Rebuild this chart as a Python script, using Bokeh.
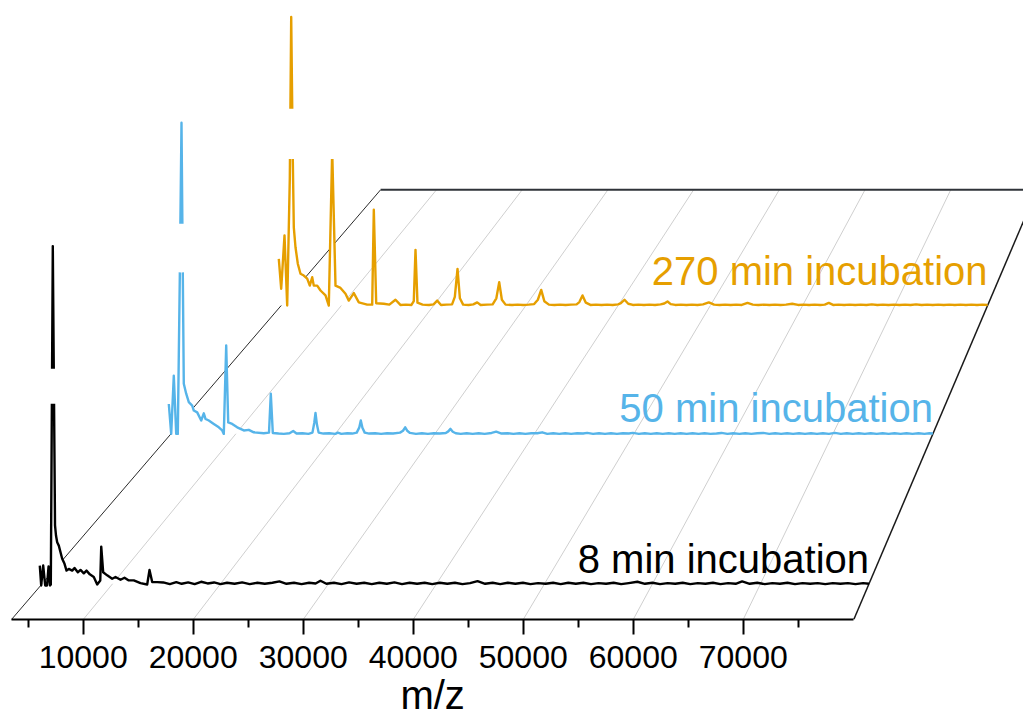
import math
from bokeh.plotting import figure
from bokeh.models import Range1d, LinearAxis, FixedTicker, ColumnDataSource, Title
from bokeh.embed import file_html
from bokeh.resources import INLINE
from bokeh.core.properties import value

# ------------------------------------------------------------------ data
TICKS = [10000, 20000, 30000, 40000, 50000, 60000, 70000]
MINOR_TICKS = [5000, 15000, 25000, 35000, 45000, 55000, 65000, 75000]
MZ_MIN, MZ_MAX = 3480, 80050
AXIS_TITLE = "m/z"

LABELS = ["8 min incubation", "50 min incubation", "270 min incubation"]
COLORS = ["#000000", "#56B4E9", "#E69F00"]

# 8 min incubation (relative intensity, main peak = 1)
BLACK_MZ = [3260, 3390, 3575, 3760, 3930, 4070, 4205, 4280, 4464, 4670, 4760, 4870, 5020,
            5335, 5550, 5735, 5945, 6260, 6475, 6780, 7030, 7335, 7585, 7890, 8260, 8576,
            8860, 8950, 9130, 9500, 9965, 10270, 10735, 11105, 11500, 11965, 12585, 13205,
            13420, 13670, 14130,
            14700, 15300, 15900, 16400, 17000, 17600, 18200, 18800, 19400, 20000, 20600,
            21300, 22000, 22700, 23400, 24100, 24800, 25450, 26100, 26800, 27500, 28200,
            28800, 29250, 29800, 30500, 31200, 31900, 32600, 33300, 34000, 34700, 35400,
            36100, 36800, 37500, 38200, 38900, 39600, 40300, 41000, 41700, 42400, 43100,
            43800, 44500, 45200, 45900, 46600, 47300, 48000, 48700, 49400, 50100, 50800,
            51500, 52200, 52900, 53600, 54300, 55000, 55700, 56400, 57100, 57800, 58600,
            59300, 60000, 60700, 61400, 62100, 62800, 63500, 64200, 64900, 65600, 66300,
            67000, 67700, 68300, 69000, 69700, 70400, 71100, 71800, 72500, 73200, 73900,
            74600, 75300, 76000, 76700, 77400, 78100, 78800, 79500, 80050]
BLACK_I = [0.054, -0.005, 0.054, -0.005, -0.005, 0.051, -0.005, -0.002, 1.0, 0.173, 0.143,
           0.123, 0.113, 0.074, 0.059, 0.039, 0.044, 0.039, 0.047, 0.034, 0.041, 0.031,
           0.039, 0.028, 0.020, -0.002, 0.010, 0.110, 0.034, 0.025, 0.015, 0.020, 0.012,
           0.018, 0.010, 0.010, 0.002, -0.002, 0.041, 0.005, 0.005,
           0.004, -0.001, 0.005, 0.000, 0.004, -0.001, 0.006, 0.001, 0.004, -0.001, 0.003,
           0.000, 0.004, -0.001, 0.003, 0.000, 0.003, 0.007, 0.000, 0.003, -0.001, 0.003,
           0.001, 0.009, 0.000, 0.003, -0.001, 0.004, 0.000, 0.003, -0.001, 0.003, 0.000,
           0.004, -0.001, 0.003, 0.000, 0.003, -0.001, 0.003, 0.000, 0.003, -0.001, 0.002,
           0.008, 0.000, 0.003, -0.001, 0.003, 0.000, 0.003, -0.001, 0.002, 0.000, 0.003,
           -0.001, 0.003, 0.000, 0.003, -0.001, 0.002, 0.000, 0.003, -0.001, 0.002, 0.006,
           0.000, 0.003, -0.001, 0.002, 0.000, 0.003, -0.001, 0.002, 0.000, 0.003, -0.001,
           0.002, 0.000, 0.007, 0.000, 0.003, -0.001, 0.002, 0.000, 0.003, -0.001, 0.002,
           0.000, 0.002, -0.001, 0.002, 0.000, 0.002, -0.001, 0.002, 0.000]
BLACK_BREAK = (0.533, 0.637)

# 50 min incubation
BLUE_MZ = [3264, 3505, 3766, 4008, 4168, 4369, 4540, 4671, 4771, 5012, 5274, 5615, 5776,
           6118, 6520, 6781, 6952, 7284, 7786, 8289, 8630, 8791, 9032, 9233, 9635, 10138,
           10801, 11303, 11806, 12810, 13333, 13514, 13715, 14300, 14820, 15400, 15765,
           16100, 16700, 17300, 17700, 17880, 18006, 18150, 18320, 18800, 19400, 20000,
           20250, 20600, 21200, 21700, 22150, 22400, 22558, 22720, 22950, 23400, 24000,
           24600, 25200, 25800, 26500, 26800, 27020, 27250, 27500, 28100, 28700, 29300,
           29900, 30500, 31100, 31350, 31572, 31800, 32100, 32600, 33200, 33800, 34400,
           35000, 35700, 36164, 36700, 37300, 37900, 38500, 39100, 39700, 40300, 40787,
           41300, 41900, 42500, 43100, 43700, 44300, 44900, 45309,
           45900, 46500, 47100, 47700, 48300, 48900, 49500, 49900, 50500, 51100,
           51700, 52300, 52900, 53500, 54100, 54700, 55300, 55900, 56500, 57100,
           57700, 58300, 58800, 59400, 60000, 60600, 61200, 61800, 62400, 63000,
           63600, 64200, 64800, 65400, 66000, 66600, 67200, 67800, 68400, 69000,
           69600, 70200, 70800, 71400, 72000, 72600, 73200, 73800, 74400, 75000,
           75600, 76200, 76800, 77400, 78000, 78600, 79200, 79700, 80050]
BLUE_I = [0.096, 0.0, 0.187, 0.0, 0.0, 0.503, 1.0, 0.514, 0.161, 0.129, 0.102, 0.091, 0.075,
          0.069, 0.043, 0.066, 0.048, 0.043, 0.032, 0.021, 0.011, 0.0, 0.284, 0.037, 0.032,
          0.021, 0.011, 0.013, 0.005, 0.002, 0.004, 0.129, 0.003, 0.001, 0.000, 0.002,
          0.009, 0.001, 0.002, 0.000, 0.004, 0.035, 0.067, 0.030, 0.004, 0.001, 0.002,
          0.000, 0.004, 0.000, 0.002, 0.001, 0.004, 0.020, 0.043, 0.020, 0.004, 0.001,
          0.002, 0.000, 0.002, 0.001, 0.004, 0.010, 0.021, 0.009, 0.003, 0.000, 0.002,
          0.000, 0.002, 0.001, 0.003, 0.008, 0.016, 0.007, 0.002, 0.000, 0.002, 0.000,
          0.002, 0.000, 0.003, 0.007, 0.001, 0.002, 0.000, 0.002, 0.000, 0.002, 0.002,
          0.005, 0.000, 0.002, 0.000, 0.002, 0.000, 0.002, 0.001, 0.003,
          0.000, 0.002, 0.000, 0.002, 0.000, 0.002, 0.001, 0.003, 0.000, 0.002,
          0.000, 0.002, 0.000, 0.002, 0.000, 0.002, 0.000, 0.002, 0.000, 0.002,
          0.000, 0.001, 0.003, 0.000, 0.002, 0.000, 0.002, 0.000, 0.002, 0.003,
          0.000, 0.002, 0.000, 0.002, 0.000, 0.002, 0.000, 0.002, 0.000, 0.002,
          0.000, 0.003, 0.000, 0.002, 0.000, 0.002, 0.000, 0.002, 0.000, 0.002,
          0.000, 0.002, 0.000, 0.002, 0.000, 0.002, 0.000, 0.002, 0.001]
BLUE_BREAK = (0.519, 0.675)

# 270 min incubation
ORANGE_MZ = [3220, 3480, 3838, 4130, 4412, 4564, 4737, 4846, 5030, 5279, 5572, 5930, 6298,
             6580, 6840, 7014, 7382, 7740, 8282, 8640, 9008, 9366, 9908, 10450, 10808,
             11350, 11892, 12802, 13344, 13518, 13778, 14602, 15200, 15870, 16400, 17000,
             17600, 17850, 18038, 18250, 18800, 19500, 20000, 20390, 20800, 21400, 22000,
             22300, 22591, 22850, 23200, 23800, 24300, 24727, 25100, 25800, 26400, 26800,
             27111, 27400, 27800, 28500, 29100, 29700, 30300, 30900, 31300, 31664, 32000,
             32500, 33100, 33700, 34300, 34900, 35500, 35800, 36141, 36500, 37000, 37600,
             38200, 38800, 39400, 40000, 40300, 40694, 41100, 41600, 42200, 42800, 43400,
             44000, 44600, 45000, 45355, 45700, 46200, 46800, 47400, 48000, 48600, 49200,
             49832, 50400, 51000, 51600, 52200, 52800, 53400, 54027, 54600, 55200, 55800,
             56400, 57000, 57600, 58200, 58872, 59500, 60100, 60700, 61300, 61900, 62400,
             62840, 63300, 63900, 64500, 65100, 65700, 66300, 66900, 67500, 68100, 68700,
             69300, 69900, 70500, 71100, 71700, 72300, 72900, 73500, 74100, 74700, 75300,
             75900, 76500, 77100, 77700, 78300, 78900, 79500, 80050]
ORANGE_I = [0.162, 0.058, 0.243, 0.0, 0.439, 1.0, 0.508, 0.271, 0.202, 0.145, 0.110, 0.104,
            0.093, 0.069, 0.098, 0.069, 0.069, 0.052, 0.035, 0.0, 0.537, 0.069, 0.061,
            0.041, 0.017, 0.043, 0.011, 0.003, 0.003, 0.332, 0.008, 0.006, 0.003, 0.020,
            0.002, 0.003, 0.002, 0.015, 0.193, 0.010, 0.003, 0.002, 0.004, 0.017, 0.002,
            0.003, 0.004, 0.030, 0.127, 0.025, 0.003, 0.002, 0.004, 0.011, 0.002, 0.003,
            0.004, 0.025, 0.081, 0.020, 0.003, 0.002, 0.003, 0.002, 0.003, 0.005, 0.020,
            0.054, 0.015, 0.003, 0.002, 0.003, 0.002, 0.003, 0.004, 0.012, 0.035, 0.010,
            0.002, 0.003, 0.002, 0.003, 0.002, 0.004, 0.008, 0.020, 0.006, 0.002, 0.003,
            0.002, 0.003, 0.002, 0.004, 0.007, 0.014, 0.005, 0.002, 0.003, 0.002, 0.003,
            0.002, 0.004, 0.011, 0.003, 0.002, 0.003, 0.002, 0.003, 0.002, 0.009, 0.003,
            0.002, 0.003, 0.002, 0.003, 0.002, 0.003, 0.006, 0.002, 0.003, 0.002, 0.003,
            0.002, 0.003, 0.009, 0.002, 0.003, 0.002, 0.003, 0.002, 0.003, 0.002, 0.004,
            0.002, 0.003, 0.002, 0.003, 0.002, 0.003, 0.002, 0.004, 0.002, 0.003, 0.002,
            0.003, 0.002, 0.003, 0.002, 0.003, 0.002, 0.003, 0.002, 0.003, 0.002]
ORANGE_BREAK = (0.508, 0.682)

for a, b in ((BLACK_MZ, BLACK_I), (BLUE_MZ, BLUE_I), (ORANGE_MZ, ORANGE_I)):
    assert len(a) == len(b), (len(a), len(b))

# ------------------------------------------------------------------ layout (pixels)
W, H = 1023, 726
AXIS_PANEL = 107
FRAME_H = H - AXIS_PANEL
FL_X, FR_X = 11.0, 853.3          # front edge of the floor
BL_X, BR_X = 380.1, 1036.4        # back edge of the floor
BACK_H = 429.7                    # height of back edge above front edge
PEAK_H = 344.0                    # height of intensity 1 at the front
DEPTHS = [0.0831, 0.432, 0.7307]  # position of each spectrum on the floor
LABEL_RAISE = [25.0, 25.5, 34.5]
TITLE_SIZE = 40
TITLE_EM = 1.611                  # advance width of "m/z" in em (Arial metrics)


def floor_geom(d):
    xl = FL_X + d * (BL_X - FL_X)
    xr = FR_X + d * (BR_X - FR_X)
    return xl, xr, d * BACK_H, (xr - xl) / (FR_X - FL_X)


def project(ms, vals, d):
    xl, xr, y0, s = floor_geom(d)
    xs = [xl + (m - MZ_MIN) / (MZ_MAX - MZ_MIN) * (xr - xl) if not math.isnan(m) else math.nan
          for m in ms]
    ys = [y0 + v * PEAK_H * s if not math.isnan(v) else math.nan for v in vals]
    return xs, ys, y0


def split_band(ms, vals, lo, hi):
    """drop the parts of the trace inside the axis-break band (lo, hi)"""
    om, ov = [], []
    last = None
    for i in range(len(ms) - 1):
        m0, v0, m1, v1 = ms[i], vals[i], ms[i + 1], vals[i + 1]
        ts = [0.0, 1.0]
        if v1 != v0:
            for b in (lo, hi):
                t = (b - v0) / (v1 - v0)
                if 0 < t < 1:
                    ts.append(t)
        ts.sort()
        for a, b in zip(ts[:-1], ts[1:]):
            vm = v0 + (a + b) / 2 * (v1 - v0)
            if lo < vm < hi:
                continue
            pa = (m0 + a * (m1 - m0), v0 + a * (v1 - v0))
            pb = (m0 + b * (m1 - m0), v0 + b * (v1 - v0))
            if last is None or abs(last[0] - pa[0]) > 1e-6 or abs(last[1] - pa[1]) > 1e-9:
                if om:
                    om.append(math.nan)
                    ov.append(math.nan)
                om.append(pa[0])
                ov.append(pa[1])
            om.append(pb[0])
            ov.append(pb[1])
            last = pb
    return om, ov


p = figure(width=W, height=H, output_backend="svg", toolbar_location=None,
           x_range=Range1d(0, W), y_range=Range1d(0, FRAME_H),
           x_axis_location=None, y_axis_location=None,
           min_border=0, min_border_left=0, min_border_right=0, min_border_top=0,
           min_border_bottom=AXIS_PANEL)
p.outline_line_color = None
p.background_fill_color = "white"
p.border_fill_color = "white"
p.grid.visible = False

# m/z axis along the front edge of the floor
px_per_mz = (FR_X - FL_X) / (MZ_MAX - MZ_MIN)
p.extra_x_ranges = {"mz": Range1d(MZ_MIN - FL_X / px_per_mz, MZ_MIN + (W - FL_X) / px_per_mz)}
ax = LinearAxis(x_range_name="mz", ticker=FixedTicker(ticks=TICKS, minor_ticks=MINOR_TICKS),
                bounds=(MZ_MIN, MZ_MAX))
ax.axis_line_width = 2
ax.axis_line_color = "black"
ax.major_tick_line_width = 2
ax.minor_tick_line_width = 2
ax.major_tick_line_color = "black"
ax.minor_tick_line_color = "black"
ax.major_tick_in = 0
ax.major_tick_out = 15
ax.minor_tick_in = 0
ax.minor_tick_out = 8
ax.major_label_text_font = "Liberation Sans"
ax.major_label_text_font_size = "32px"
ax.major_label_text_color = "black"
ax.major_label_standoff = 11
p.add_layout(ax, "below")

# axis title, centred under the (bounded) axis line
axis_mid_px = FL_X + (FR_X - FL_X) / 2
p.add_layout(Title(text=AXIS_TITLE, align="left",
                   offset=axis_mid_px - TITLE_EM * TITLE_SIZE / 2,
                   text_font="Liberation Sans", text_font_size=f"{TITLE_SIZE}px",
                   text_font_style="normal", text_color="black", standoff=0), "below")

# floor grid lines (from each major tick to the back edge)
gx, gy = [], []
for t in TICKS:
    xa, ya, _ = project([t], [0.0], 0.0)
    xb, yb, _ = project([t], [0.0], 1.0)
    gx.append([xa[0], xb[0]])
    gy.append([ya[0], yb[0]])
p.multi_line(gx, gy, line_color="#cfcfcf", line_width=1)

# floor edges
lx, ly, _ = project([MZ_MIN], [0.0], 0.0)
lx2, ly2, _ = project([MZ_MIN], [0.0], 1.0)
p.line([lx[0], lx2[0]], [ly[0], ly2[0]], line_color="#2a2a2a", line_width=1)
bx, by, _ = project([MZ_MIN, MZ_MAX], [0.0, 0.0], 1.0)
p.line(bx, by, line_color="#2f3338", line_width=2)
rx0, ry0, _ = project([MZ_MAX], [0.0], 0.0)
rx1, ry1, _ = project([MZ_MAX], [0.0], 1.0)
p.line([rx0[0], rx1[0]], [ry0[0], ry1[0]], line_color="#1a1a1a", line_width=1.5)

# spectra, back to front
spectra = [(BLACK_MZ, BLACK_I, BLACK_BREAK), (BLUE_MZ, BLUE_I, BLUE_BREAK),
           (ORANGE_MZ, ORANGE_I, ORANGE_BREAK)]
for k in (2, 1, 0):
    ms, vals, brk = spectra[k]
    d = DEPTHS[k]
    fx, fy, y0 = project(ms, vals, d)
    p.varea(x=fx, y1=[y0] * len(fx), y2=fy, fill_color="white")
    sm, sv = split_band(ms, vals, brk[0], brk[1])
    sx, sy, _ = project(sm, sv, d)
    p.line(sx, sy, line_color=COLORS[k], line_width=2.4, line_join="round")

# series labels, right-aligned at the right edge of the floor
tx, ty = [], []
for k, d in enumerate(DEPTHS):
    xl, xr, y0, s = floor_geom(d)
    tx.append(xr)
    ty.append(y0 + LABEL_RAISE[k])
src = ColumnDataSource(dict(x=tx, y=ty, text=LABELS, color=COLORS))
p.text(x="x", y="y", text="text", text_color="color", source=src,
       text_font=value("Liberation Sans"), text_font_size="40px",
       text_align="right", text_baseline="alphabetic")

open("out.html", "w").write(file_html(p, INLINE))
